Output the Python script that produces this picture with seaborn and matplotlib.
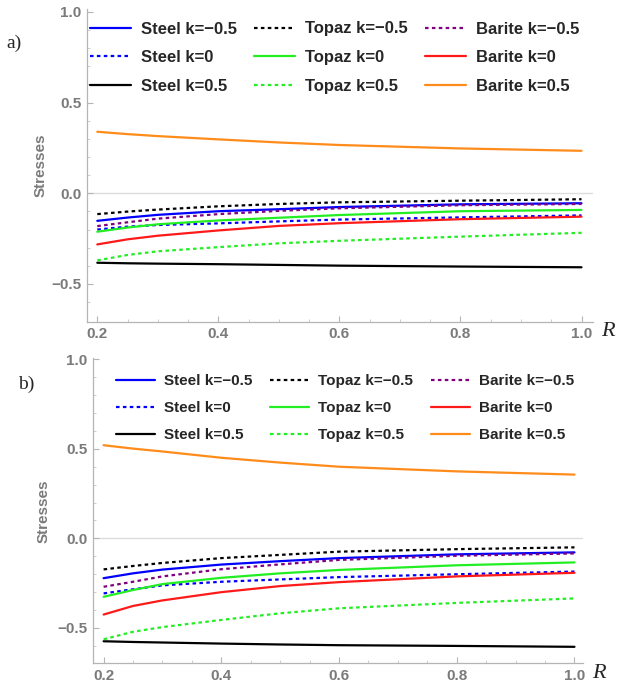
import numpy as np
import pandas as pd
import matplotlib
matplotlib.use("Agg")
import matplotlib.pyplot as plt
import seaborn as sns

# sample radii
R = [0.2, 0.25, 0.3, 0.4, 0.5, 0.6, 0.8, 1.0]

# panel a)
a_steel_m05 = [-0.152, -0.134, -0.119, -0.099, -0.088, -0.076, -0.061, -0.055]
a_steel_0 = [-0.200, -0.184, -0.175, -0.166, -0.155, -0.145, -0.133, -0.122]
a_steel_p05 = [-0.383, -0.386, -0.388, -0.391, -0.395, -0.399, -0.404, -0.408]
a_topaz_m05 = [-0.115, -0.101, -0.090, -0.072, -0.059, -0.050, -0.041, -0.033]
a_topaz_0 = [-0.212, -0.189, -0.171, -0.150, -0.135, -0.120, -0.099, -0.092]
a_topaz_p05 = [-0.370, -0.340, -0.320, -0.297, -0.276, -0.262, -0.239, -0.218]
a_barite_m05 = [-0.181, -0.160, -0.140, -0.115, -0.097, -0.083, -0.066, -0.059]
a_barite_0 = [-0.282, -0.254, -0.234, -0.205, -0.180, -0.165, -0.143, -0.129]
a_barite_p05 = [0.339, 0.326, 0.315, 0.297, 0.280, 0.266, 0.247, 0.234]

# panel b)
b_steel_m05 = [-0.222, -0.195, -0.174, -0.146, -0.127, -0.110, -0.089, -0.078]
b_steel_0 = [-0.307, -0.284, -0.262, -0.242, -0.229, -0.216, -0.200, -0.185]
b_steel_p05 = [-0.574, -0.578, -0.581, -0.587, -0.592, -0.596, -0.600, -0.605]
b_topaz_m05 = [-0.173, -0.154, -0.137, -0.110, -0.092, -0.074, -0.060, -0.050]
b_topaz_0 = [-0.326, -0.288, -0.255, -0.220, -0.195, -0.176, -0.150, -0.134]
b_topaz_p05 = [-0.563, -0.521, -0.495, -0.455, -0.418, -0.390, -0.360, -0.335]
b_barite_m05 = [-0.270, -0.242, -0.212, -0.172, -0.145, -0.120, -0.097, -0.084]
b_barite_0 = [-0.425, -0.377, -0.346, -0.300, -0.266, -0.244, -0.212, -0.192]
b_barite_p05 = [0.520, 0.501, 0.485, 0.450, 0.423, 0.400, 0.374, 0.356]

labels = ["Steel k=\u22120.5", "Steel k=0", "Steel k=0.5",
          "Topaz k=\u22120.5", "Topaz k=0", "Topaz k=0.5",
          "Barite k=\u22120.5", "Barite k=0", "Barite k=0.5"]

DASH = (0, (1.6, 1.5))
styles = [("#0000ff", "-"), ("#0000ff", DASH), ("#000000", "-"),
          ("#000000", DASH), ("#22ee22", "-"), ("#22ee22", DASH),
          ("#800080", DASH), ("#ff1a1a", "-"), ("#ff8c1a", "-")]

panel_a = [a_steel_m05, a_steel_0, a_steel_p05, a_topaz_m05, a_topaz_0,
           a_topaz_p05, a_barite_m05, a_barite_0, a_barite_p05]
panel_b = [b_steel_m05, b_steel_0, b_steel_p05, b_topaz_m05, b_topaz_0,
           b_topaz_p05, b_barite_m05, b_barite_0, b_barite_p05]

sns.set_style("white")
plt.rcParams["font.family"] = ["Liberation Sans", "DejaVu Sans"]

GRAY = "#7a7a7a"
W, H = 619, 682
fig = plt.figure(figsize=(W / 100, H / 100), dpi=100)


def px_axes(left, top, right, bottom):
    return fig.add_axes([left / W, 1 - bottom / H, (right - left) / W, (bottom - top) / H])


def draw(ax, series, xlim, ylim, fs, leg_xy, hl, htp, csp, lsp, ylpad):
    for vals, lab, (col, ls) in zip(series, labels, styles):
        df = pd.DataFrame({"R": R, "S": vals})
        sns.lineplot(data=df, x="R", y="S", ax=ax, color=col, linestyle=ls,
                     linewidth=1.6, label=lab)
    ax.set_xlim(*xlim)
    ax.set_ylim(*ylim)
    ax.axhline(0, color="#dcdcdc", lw=1.0, zorder=0)
    for s in ["top", "right"]:
        ax.spines[s].set_visible(False)
    for s in ["left", "bottom"]:
        ax.spines[s].set_color("#b5b5b5")
        ax.spines[s].set_linewidth(0.9)
    ax.set_xticks([0.2, 0.4, 0.6, 0.8, 1.0])
    ax.set_xticks(np.arange(0.25, 1.0, 0.05), minor=True)
    ax.set_yticks([-0.5, 0.0, 0.5, 1.0])
    ax.set_yticks([-0.6, -0.4, -0.3, -0.2, -0.1, 0.1, 0.2, 0.3, 0.4,
                   0.6, 0.7, 0.8, 0.9], minor=True)
    ax.set_xticklabels(["0.2", "0.4", "0.6", "0.8", "1.0"])
    ax.set_yticklabels(["\u22120.5", "0.0", "0.5", "1.0"])
    ax.tick_params(which="major", direction="in", length=4, width=0.8,
                   color="#b5b5b5", labelcolor=GRAY, labelsize=11, pad=4)
    ax.tick_params(which="minor", direction="in", length=2.5, width=0.6,
                   color="#c5c5c5")
    ax.tick_params(axis="y", which="both", left=True)
    ax.tick_params(axis="x", which="both", bottom=True)
    for t in ax.get_xticklabels() + ax.get_yticklabels():
        t.set_fontweight("bold")
    ax.set_xlabel("")
    ax.set_ylabel("Stresses", color=GRAY, fontweight="bold", fontsize=11,
                  labelpad=ylpad)
    ax.legend(loc="upper left", bbox_to_anchor=(leg_xy[0] / W, 1 - leg_xy[1] / H),
              bbox_transform=fig.transFigure, ncol=3, frameon=False,
              prop={"weight": "bold", "size": fs}, borderaxespad=0,
              borderpad=0, handlelength=hl, handletextpad=htp,
              columnspacing=csp, labelspacing=lsp)


ax1 = px_axes(87, 9.3, 593, 321.7)
draw(ax1, panel_a, (0.183, 1.019), (-0.708, 1.014), 12, (90, 21.5),
     2.45, 0.6, 1.05, 0.82, 2.5)
ax2 = px_axes(93.3, 358.3, 583.3, 663.3)
draw(ax2, panel_b, (0.1825, 1.015), (-0.697, 1.005), 11, (116, 374),
     2.55, 0.6, 1.15, 0.85, 5)

serif = ["Liberation Serif", "DejaVu Serif"]
fig.text(6 / W, 1 - 43 / H, "a)", family=serif, fontsize=14, va="center")
fig.text(18 / W, 1 - 384 / H, "b)", family=serif, fontsize=14, va="center")
fig.text(601 / W, 1 - 331 / H, "R", family=serif, style="italic", fontsize=16, va="center")
fig.text(592 / W, 1 - 674 / H, "R", family=serif, style="italic", fontsize=16, va="center")

fig.savefig("out.png", dpi=100)
